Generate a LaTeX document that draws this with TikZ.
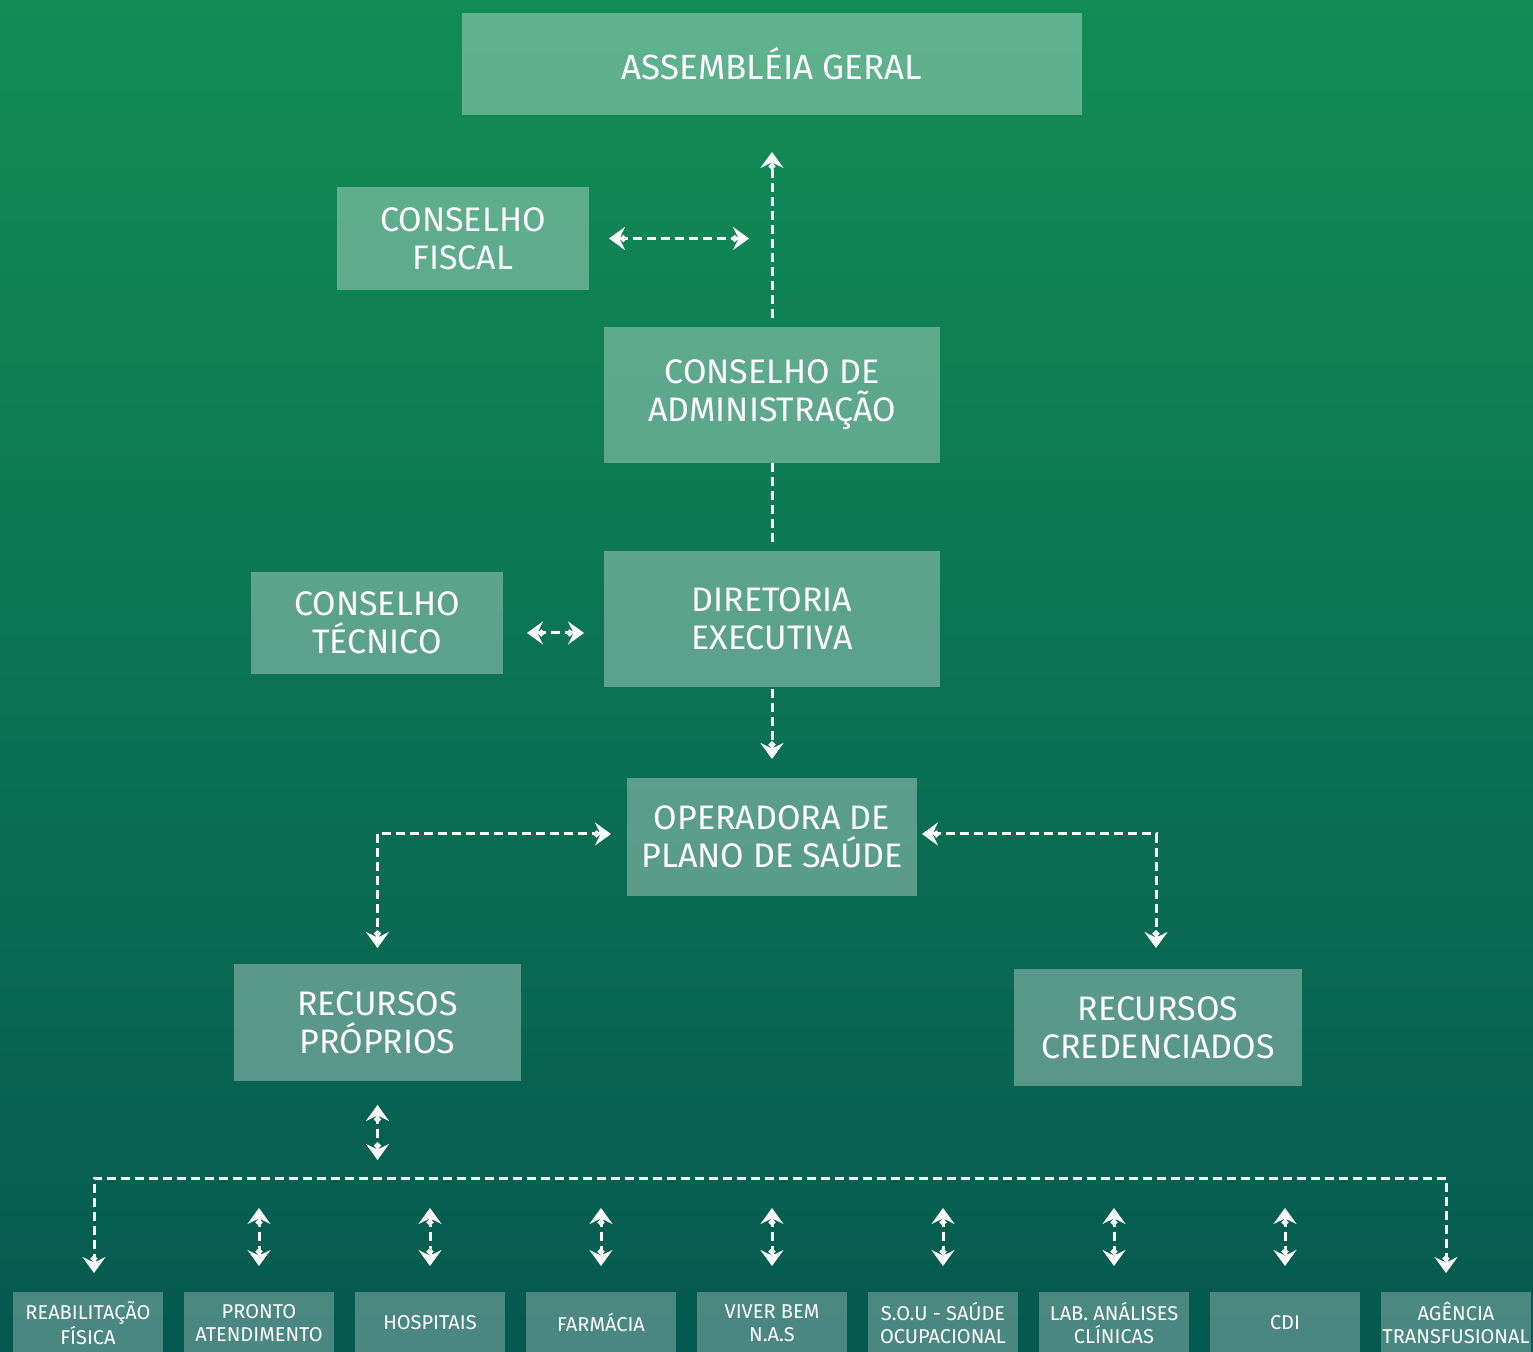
\documentclass[tikz,border=0pt]{standalone}
\usepackage{fontspec}
\setmainfont{Fira Sans}
\usetikzlibrary{arrows.meta,positioning}

\definecolor{topgreen}{RGB}{18,141,86}
\definecolor{bottomgreen}{RGB}{5,89,80}

\tikzset{
  orgbox/.style={fill=white, fill opacity=0.33, text opacity=1, text=white,
    align=center, inner sep=0pt, outer sep=0pt, font=\fontsize{17}{19}\selectfont},
  unitbox/.style={orgbox, fill opacity=0.28, minimum width=75pt,
    minimum height=31pt, font=\fontsize{10}{11.5}\selectfont},
  link/.style={draw=white, line width=1.5pt, dash pattern=on 4.5pt off 2.5pt},
  chev/.tip={Circle[length=3.2pt,sep=-2.4pt]Stealth[length=8pt,width=11.5pt,inset=2.8pt]},
}

\begin{document}
\begin{tikzpicture}[x=0.5pt, y=-0.5pt]
\useasboundingbox (0,0) rectangle (1533,1352);
\shade[top color=topgreen, bottom color=bottomgreen] (0,0) rectangle (1533,1352);

% main column
\node[orgbox, minimum width=310pt, minimum height=51pt, font=\fontsize{17.5}{19}\selectfont] (assembleia) at (772,64) {ASSEMBLÉIA GERAL};
\node[orgbox, minimum width=168pt, minimum height=68pt, below=106pt of assembleia] (adm) {CONSELHO DE\\ADMINISTRAÇÃO};
\node[orgbox, minimum width=168pt, minimum height=68pt, below=44pt of adm] (dir) {DIRETORIA\\EXECUTIVA};
\node[orgbox, minimum width=145pt, minimum height=59pt, below=45.5pt of dir] (oper) {OPERADORA DE\\PLANO DE SAÚDE};

% side councils
\node[orgbox, minimum width=126pt, minimum height=51.5pt] (fiscal) at (463,238.5) {CONSELHO\\FISCAL};
\node[orgbox, minimum width=126pt, minimum height=51pt] (tecnico) at (377,623) {CONSELHO\\TÉCNICO};

% resources
\node[orgbox, minimum width=143.5pt, minimum height=58.5pt] (proprios) at (377.5,1022.5) {RECURSOS\\PRÓPRIOS};
\node[orgbox, minimum width=144pt, minimum height=58.5pt] (cred) at (1158,1027.5) {RECURSOS\\CREDENCIADOS};

% units
\node[unitbox] (reab) at (88,1323) {REABILITAÇÃO\\FÍSICA};
\node[unitbox, right=10.5pt of reab] (pa) {PRONTO\\ATENDIMENTO};
\node[unitbox, right=10.5pt of pa] (hosp) {HOSPITAIS};
\node[unitbox, right=10.5pt of hosp] (farm) {FARMÁCIA};
\node[unitbox, right=10.5pt of farm] (viver) {VIVER BEM\\N.A.S};
\node[unitbox, right=10.5pt of viver] (sou) {S.O.U - SAÚDE\\OCUPACIONAL};
\node[unitbox, right=10.5pt of sou] (lab) {LAB. ANÁLISES\\CLÍNICAS};
\node[unitbox, right=10.5pt of lab] (cdi) {CDI};
\node[unitbox, right=10.5pt of cdi] (agencia) {AGÊNCIA\\TRANSFUSIONAL};
\coordinate (bar) at (772,1178);

% connectors
\draw[link, -{chev}, shorten <=4.5pt, shorten >=18.5pt] (adm.north) -- (assembleia.south);
\draw[link, {chev}-{chev}, shorten <=10pt, shorten >=11.5pt] (fiscal.east) -- (fiscal.east -| adm.north);
\draw[link, shorten >=2pt] (adm.south) -- (dir.north);
\draw[link, {chev}-{chev}, shorten <=12pt, shorten >=10pt] ([yshift=-5pt]tecnico.east) -- ([yshift=-5pt]tecnico.east -| dir.west);
\draw[link, -{chev}, shorten <=1pt, shorten >=9.5pt] (dir.south) -- (oper.north);
\draw[link, {chev}-{chev}, shorten <=8pt, shorten >=8pt] ([yshift=1.5pt]oper.west) -| (proprios.north);
\draw[link, {chev}-{chev}, shorten <=2.5pt, shorten >=10.5pt] ([yshift=1.5pt]oper.east) -| ([xshift=-1pt]cred.north);
\draw[link, {chev}-{chev}] ([yshift=-12pt]proprios.south) -- ([yshift=-39.5pt]proprios.south);
\draw[link, {chev}-{chev}, shorten <=9.5pt, shorten >=9.5pt] ([xshift=3pt]reab.north) |- (bar) -| ([xshift=-5pt]agencia.north);
\foreach \u in {pa,hosp,farm,viver,sou,lab,cdi}
  \draw[link, {chev}-{chev}] ([yshift=42pt]\u.north) -- ([yshift=13pt]\u.north);
\end{tikzpicture}
\end{document}
